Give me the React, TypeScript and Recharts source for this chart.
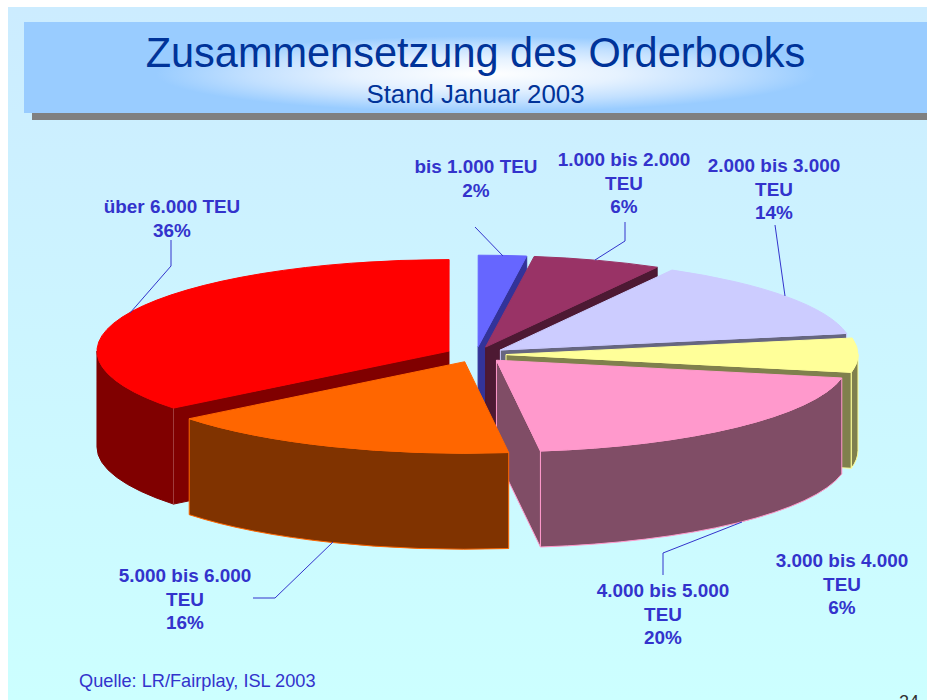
import { PieChart, Pie } from 'recharts';

// clockwise, starting at the slice drawn furthest back so overlaps paint correctly
const categories = [
  'über 6.000 TEU',
  'bis 1.000 TEU',
  '1.000 bis 2.000 TEU',
  '2.000 bis 3.000 TEU',
  '3.000 bis 4.000 TEU',
  '4.000 bis 5.000 TEU',
  '5.000 bis 6.000 TEU',
];
// slice sizes, printed rounded
const shares = [35.7, 2.2, 5.9, 14, 6, 19.9, 16.3];

const topColors = ['#ff0000', '#6666ff', '#993366', '#ccccff', '#ffff99', '#ff99cc', '#ff6600'];
const wallColors = ['#800000', '#333399', '#4d1933', '#666680', '#80804d', '#804d66', '#803300'];
const wallStrokes = ['#800000', '#333399', '#4d1933', '#ccccff', '#ffff99', '#ff99cc', '#ff6600'];

const chartData = categories.map((name, i) => ({ name, value: shares[i], fill: topColors[i] }));

const SQUASH = 0.26;
const DEPTH = 96;
const EXPLODE = 30;
const LABEL_COLOR = '#3333cc';
const FONT = '"Liberation Sans", Arial, sans-serif';

// label centre x, first baseline y, wrapped or not, leader line
const labelLayout = [
  { x: 172, y: 213, wrap: false, leader: '171,240 171,266 130,313' },
  { x: 476, y: 173, wrap: false, leader: '475,227 503,256' },
  { x: 624, y: 166, wrap: true, leader: '625,222 625,241 595,260' },
  { x: 774, y: 172, wrap: true, leader: '775,225 785,296' },
  { x: 842, y: 567, wrap: true, leader: '' },
  { x: 663, y: 597, wrap: true, leader: '663,575 663,553 742,522' },
  { x: 185, y: 582, wrap: true, leader: '253,598 275,598 333,542' },
];

function Wedge(props: any) {
  const { cx, cy, outerRadius, startAngle, endAngle, midAngle, index } = props;
  const rx = outerRadius;
  const ry = outerRadius * SQUASH;
  const toRad = Math.PI / 180;
  // recharts angles -> clockwise from 12 o'clock, wrapped back into 0..360
  let s = 90 - startAngle;
  let e = 90 - endAngle;
  if (s >= 359.999) {
    s -= 360;
    e -= 360;
  }
  const m = (90 - midAngle) * toRad;
  const ax = cx + EXPLODE * Math.sin(m);
  const ay = cy - EXPLODE * SQUASH * Math.cos(m);
  const pt = (deg: number, dy = 0) =>
    `${ax + rx * Math.sin(deg * toRad)},${ay - ry * Math.cos(deg * toRad) + dy}`;
  const face = (deg: number) => `M${ax},${ay} L${pt(deg)} L${pt(deg, DEPTH)} L${ax},${ay + DEPTH} Z`;

  const top = topColors[index];
  const wall = wallColors[index];
  const line = wallStrokes[index];
  const large = e - s > 180 ? 1 : 0;

  // only the radial faces turned towards the viewer
  const sNorm = Math.sin(s * toRad);
  const eNorm = Math.sin(e * toRad);
  const from = Math.max(s, 90);
  const to = Math.min(e, 270);

  return (
    <g>
      {sNorm < -0.001 && <path d={face(s)} fill={wall} stroke={line} strokeWidth={1} />}
      {eNorm > 0.001 && <path d={face(e)} fill={wall} stroke={line} strokeWidth={1} />}
      {from < to && (
        <path
          d={`M${pt(from)} A${rx},${ry} 0 0 1 ${pt(to)} L${pt(to, DEPTH)} A${rx},${ry} 0 0 0 ${pt(from, DEPTH)} Z`}
          fill={wall}
          stroke={line}
          strokeWidth={1}
        />
      )}
      {sNorm < -0.001 && <path d={`M${pt(s)} L${pt(s, DEPTH)}`} stroke="#a03c3c" strokeWidth={1} />}
      <path
        d={`M${ax},${ay} L${pt(s)} A${rx},${ry} 0 ${large} 1 ${pt(e)} Z`}
        fill={top}
        stroke={top}
        strokeWidth={1}
      />
    </g>
  );
}

function SliceLabel(props: any) {
  const { index } = props;
  const layout = labelLayout[index];
  const name = categories[index];
  const lines = layout.wrap
    ? [name.slice(0, name.lastIndexOf(' ')), name.slice(name.lastIndexOf(' ') + 1)]
    : [name];
  lines.push(`${Math.round(shares[index])}%`);
  return (
    <g>
      {layout.leader && <polyline points={layout.leader} fill="none" stroke={LABEL_COLOR} strokeWidth={1} />}
      {lines.map((t, i) => (
        <text
          key={t}
          x={layout.x}
          y={layout.y + i * 23.5}
          textAnchor="middle"
          fill={LABEL_COLOR}
          fontFamily={FONT}
          fontWeight="bold"
          fontSize={18.9}
        >
          {t}
        </text>
      ))}
    </g>
  );
}

export default function App() {
  return (
    <div style={{ position: 'absolute', left: 0, top: 0, width: 927, height: 700, overflow: 'hidden', background: '#fff', fontFamily: FONT }}>
      <div style={{ position: 'absolute', left: 8, top: 7, width: 919, height: 693, background: 'linear-gradient(180deg, #ccecff 0%, #ccffff 100%)' }} />
      <div style={{ position: 'absolute', left: 32, top: 113, width: 895, height: 7, background: '#808080' }} />
      <div
        style={{
          position: 'absolute',
          left: 24,
          top: 22,
          width: 903,
          height: 91,
          background: 'radial-gradient(ellipse 330px 38px at 462px 52px, #ffffff 0%, #e6f2ff 40%, #c2e0ff 72%, #99ccff 100%), #99ccff',
        }}
      />
      <div style={{ position: 'absolute', left: 0, top: 27, width: 951, textAlign: 'center', fontSize: 43, lineHeight: '50px', color: '#003399', transform: 'scaleX(0.965)', transformOrigin: '475px 0' }}>
        Zusammensetzung des Orderbooks
      </div>
      <div style={{ position: 'absolute', left: 0, top: 79, width: 951, textAlign: 'center', fontSize: 25.8, lineHeight: '30px', color: '#003399' }}>
        Stand Januar 2003
      </div>
      <div style={{ position: 'absolute', left: 79, top: 670, fontSize: 18.2, lineHeight: '22px', color: LABEL_COLOR }}>
        Quelle: LR/Fairplay, ISL 2003
      </div>
      <div style={{ position: 'absolute', left: 899, top: 691, fontSize: 18, lineHeight: '22px', color: '#333333' }}>24</div>
      <div style={{ position: 'absolute', left: 0, top: 0 }}>
        <PieChart width={927} height={700} margin={{ top: 0, right: 0, bottom: 0, left: 0 }}>
          <Pie
            data={chartData}
            dataKey="value"
            nameKey="name"
            cx={476}
            cy={354.5}
            outerRadius={352}
            startAngle={-141.5}
            endAngle={-501.5}
            stroke="none"
            shape={Wedge}
            label={SliceLabel}
            labelLine={false}
            isAnimationActive={false}
          />
        </PieChart>
      </div>
    </div>
  );
}
